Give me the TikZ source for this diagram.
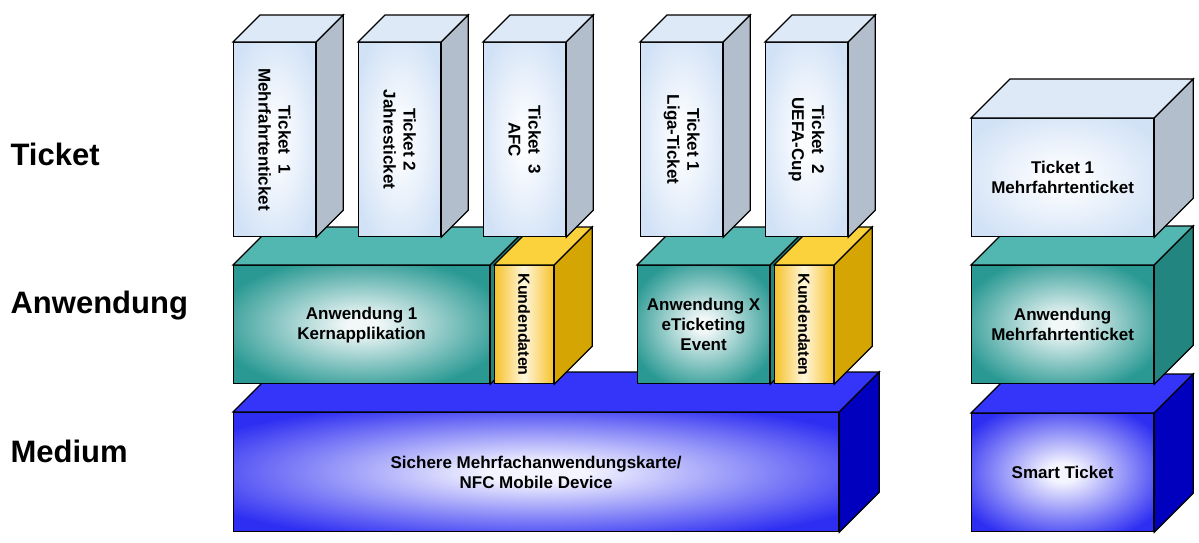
\documentclass[tikz,border=0pt]{standalone}
\usepackage{fontspec}
\setmainfont{Liberation Sans}

\definecolor{ticketfront}{HTML}{D2E2F6}
\definecolor{ticketinner}{HTML}{FCFDFF}
\definecolor{tickettop}{HTML}{DDE9F6}
\definecolor{ticketside}{HTML}{B2BECC}
\definecolor{appfront}{HTML}{2A9993}
\definecolor{appinner}{HTML}{F2F8F8}
\definecolor{apptop}{HTML}{52B6B1}
\definecolor{appside}{HTML}{22857F}
\definecolor{kdfront}{HTML}{F6C22C}
\definecolor{kdinner}{HTML}{FFF6DC}
\definecolor{kdtop}{HTML}{FCD23C}
\definecolor{kdside}{HTML}{D4A503}
\definecolor{medfront}{HTML}{2E2EF2}
\definecolor{medinner}{HTML}{F4F4FF}
\definecolor{medtop}{HTML}{3535FA}
\definecolor{medside}{HTML}{0000BE}

\pgfdeclareradialshading{ticketshade}{\pgfpoint{0bp}{0bp}}{color(0bp)=(ticketinner); color(4bp)=(ticketinner); color(30bp)=(ticketfront); color(50bp)=(ticketfront)}
\pgfdeclareradialshading{appshade}{\pgfpoint{0bp}{0bp}}{color(0bp)=(appinner); color(3bp)=(appinner); color(29bp)=(appfront); color(50bp)=(appfront)}
\pgfdeclareradialshading{medshade}{\pgfpoint{0bp}{0bp}}{color(0bp)=(medinner); color(4bp)=(medinner); color(31bp)=(medfront); color(50bp)=(medfront)}

% top and side face of a block: node, depth, top colour, side colour
\newcommand{\cuboid}[4]{%
	\filldraw[fill=#3] (#1.north west) -- ++(#2,-#2) -- ([shift={(#2,-#2)}]#1.north east) -- (#1.north east) -- cycle;
	\filldraw[fill=#4] (#1.north east) -- ++(#2,-#2) -- ([shift={(#2,-#2)}]#1.south east) -- (#1.south east) -- cycle;
}

\begin{document}
\begin{tikzpicture}[
		x=1pt, y=-1pt
		,line width=1.2pt
		,face/.style={draw, anchor=north west, inner sep=0pt, align=center, font=\bfseries\fontsize{17}{20}\selectfont}
		,ticket/.style={face, shade, shading=ticketshade}
		,app/.style={face, shade, shading=appshade}
		,kd/.style={face, left color=kdfront, right color=kdfront, middle color=kdinner}
		,med/.style={face, shade, shading=medshade}
		,vtext/.style={rotate=-90, align=center, font=\bfseries\fontsize{17}{20}\selectfont}
		,layer/.style={anchor=base west, inner sep=0pt, font=\bfseries\fontsize{31}{36}\selectfont}
	]
		\useasboundingbox (0,0) rectangle (1199,542);

		% layer names
		\node[layer] (lTicket) at (10,165) {Ticket};
		\node[layer] (lApp) at (10,313) {Anwendung};
		\node[layer] (lMedium) at (10,462) {Medium};

		% medium
		\node[med, minimum width=605pt, minimum height=119pt] (m1) at (233,412) {Sichere Mehrfachanwendungskarte/\\NFC Mobile Device};
		\cuboid{m1}{40}{medtop}{medside}
		\node[med, minimum width=182pt, minimum height=118pt] (mR) at (971,413) {Smart Ticket};
		\cuboid{mR}{39}{medtop}{medside}

		% applications
		\node[app, minimum width=256pt, minimum height=118pt] (a1) at (233,265) {Anwendung 1\\Kernapplikation};
		\cuboid{a1}{38}{apptop}{appside}
		\node[kd, minimum width=59pt, minimum height=118pt] (k1) at (494,265) {};
		\cuboid{k1}{38}{kdtop}{kdside}
		\node[vtext, font=\bfseries\fontsize{16}{19}\selectfont] (k1l) at (k1) {Kundendaten};

		\node[app, minimum width=132pt, minimum height=118pt] (a2) at (637,265) {Anwendung X\\eTicketing\\Event};
		\cuboid{a2}{38}{apptop}{appside}
		\node[kd, minimum width=59pt, minimum height=118pt] (k2) at (774,265) {};
		\cuboid{k2}{38}{kdtop}{kdside}
		\node[vtext, font=\bfseries\fontsize{16}{19}\selectfont] (k2l) at (k2) {Kundendaten};

		\node[app, minimum width=182pt, minimum height=118pt] (aR) at (971,265) {Anwendung\\Mehrfahrtenticket};
		\cuboid{aR}{39}{apptop}{appside}

		% tickets
		\node[ticket, minimum width=82pt, minimum height=194pt] (t1) at (233,42) {};
		\cuboid{t1}{27}{tickettop}{ticketside}
		\node[vtext] (t1l) at (t1) {Ticket~~1\\Mehrfahrtenticket};
		\node[ticket, minimum width=82pt, minimum height=194pt] (t2) at (358,42) {};
		\cuboid{t2}{27}{tickettop}{ticketside}
		\node[vtext] (t2l) at (t2) {Ticket 2\\Jahresticket};
		\node[ticket, minimum width=82pt, minimum height=194pt] (t3) at (483,42) {};
		\cuboid{t3}{27}{tickettop}{ticketside}
		\node[vtext] (t3l) at (t3) {Ticket~~3\\AFC};
		\node[ticket, minimum width=82pt, minimum height=194pt] (t4) at (640,42) {};
		\cuboid{t4}{27}{tickettop}{ticketside}
		\node[vtext] (t4l) at (t4) {Ticket 1\\Liga-Ticket};
		\node[ticket, minimum width=82pt, minimum height=194pt] (t5) at (765,42) {};
		\cuboid{t5}{27}{tickettop}{ticketside}
		\node[vtext] (t5l) at (t5) {Ticket~~2\\UEFA-Cup};

		\node[ticket, minimum width=182pt, minimum height=118pt] (tR) at (971,118) {Ticket 1\\Mehrfahrtenticket};
		\cuboid{tR}{39}{tickettop}{ticketside}
	\end{tikzpicture}
\end{document}
